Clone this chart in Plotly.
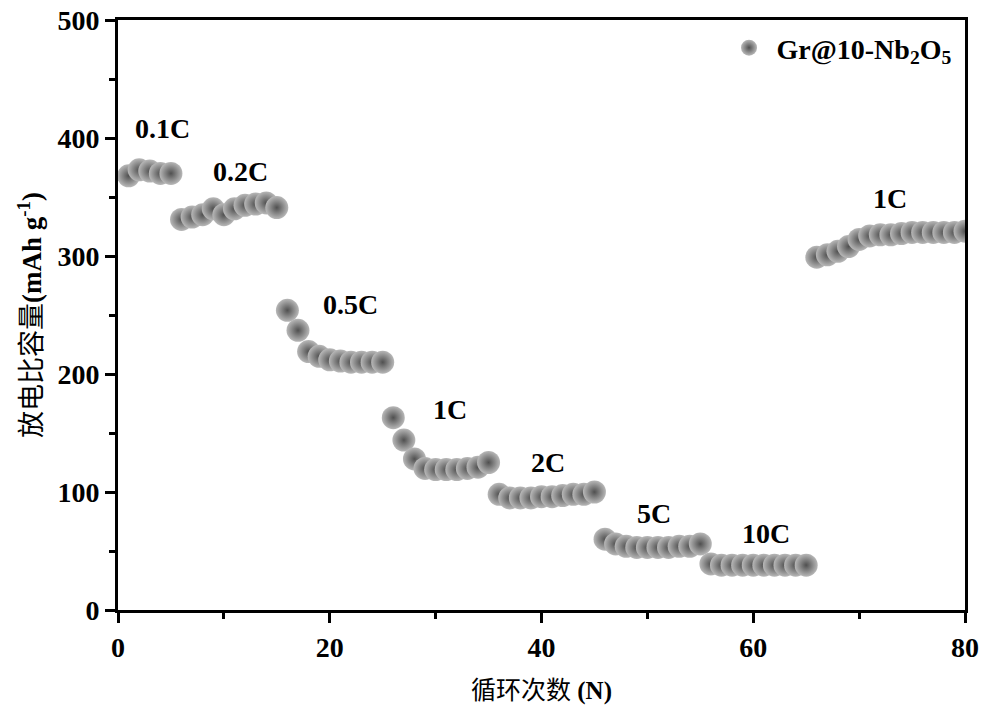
import plotly.graph_objects as go

cycles = list(range(1, 81))
capacity = [
    368, 373, 372, 370, 370,                      # 0.1C
    331, 333, 335, 340, 335, 340, 343, 344, 345, 341,  # 0.2C
    254, 237, 219, 215, 212, 211, 210, 210, 210, 210,  # 0.5C
    163, 144, 128, 120, 119, 119, 119, 120, 121, 125,  # 1C
    98, 95, 95, 95, 96, 96, 97, 98, 98, 100,          # 2C
    60, 56, 54, 53, 53, 53, 53, 54, 54, 56,           # 5C
    39, 38, 38, 38, 38, 38, 38, 38, 38, 38,           # 10C
    299, 301, 304, 308, 314, 317, 318, 318, 319, 320, 320, 320, 320, 320, 321,  # 1C
]
rate_labels = ["0.1C", "0.2C", "0.5C", "1C", "2C", "5C", "10C", "1C"]
label_x = [4.2, 11.6, 22.0, 31.4, 40.6, 50.6, 61.2, 72.9]
label_y = [408, 372, 259, 170, 125, 82, 65, 349]

serif = "Liberation Serif, Times New Roman, serif"
cjk = "Liberation Serif, Noto Sans CJK SC, serif"

fig = go.Figure()
fig.add_trace(go.Scatter(
    x=cycles, y=capacity, mode="markers", name="Gr@10-Nb<sub>2</sub>O<sub>5</sub>",
    marker=dict(size=23, color="#b8b8b8",
                gradient=dict(type="radial", color="#505050"),
                line=dict(width=0)),
))

for t, xx, yy in zip(rate_labels, label_x, label_y):
    fig.add_annotation(x=xx, y=yy, text=t, showarrow=False,
                       font=dict(family=serif, size=28, color="black", weight="bold"))

fig.update_layout(
    width=987, height=722,
    margin=dict(l=118, r=22, t=20, b=112),
    plot_bgcolor="white", paper_bgcolor="white",
    showlegend=True,
    legend=dict(x=0.99, y=0.995, xanchor="right", yanchor="top",
                bgcolor="rgba(0,0,0,0)", borderwidth=0,
                font=dict(family=serif, size=28, color="black", weight="bold"),
                itemsizing="trace", itemwidth=45),
)
fig.update_xaxes(
    range=[0, 80], tickmode="linear", tick0=0, dtick=20, automargin=False,
    showline=True, linewidth=3, linecolor="black", mirror=True,
    ticks="outside", ticklen=10, tickwidth=3, tickcolor="black",
    minor=dict(ticks="outside", ticklen=6, tickwidth=3, dtick=10, tickcolor="black"),
    showgrid=False, zeroline=False,
    tickfont=dict(family=serif, size=28, color="black", weight="bold"),
    title=dict(text="循环次数 <b>(N)</b>", font=dict(family=cjk, size=25, color="black"), standoff=20),
)
fig.update_yaxes(
    range=[0, 500], tickmode="linear", tick0=0, dtick=100, automargin=False,
    showline=True, linewidth=3, linecolor="black", mirror=True,
    ticks="outside", ticklen=10, tickwidth=3, tickcolor="black",
    minor=dict(ticks="outside", ticklen=6, tickwidth=3, dtick=50, tickcolor="black"),
    showgrid=False, zeroline=False,
    tickfont=dict(family=serif, size=28, color="black", weight="bold"),
    title=dict(text="放电比容量<b>(mAh g<sup>-1</sup>)</b>", font=dict(family=cjk, size=27, color="black"), standoff=8),
)

fig.write_html("out.html")
